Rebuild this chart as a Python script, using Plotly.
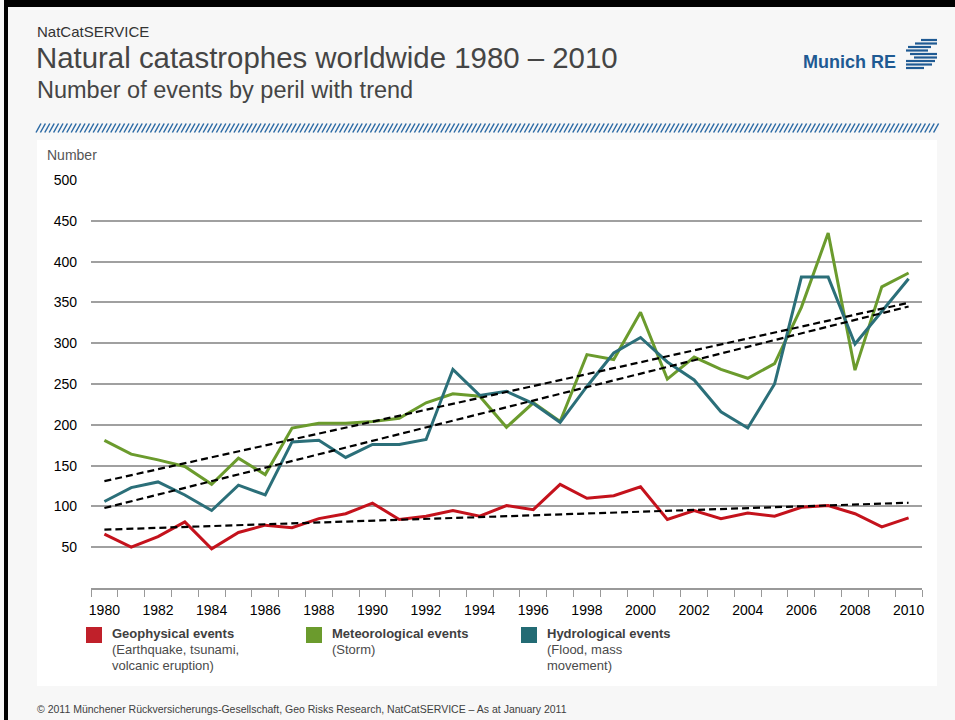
import plotly.graph_objects as go

# ---------------- data ----------------
years = [1980, 1981, 1982, 1983, 1984, 1985, 1986, 1987, 1988, 1989,
         1990, 1991, 1992, 1993, 1994, 1995, 1996, 1997, 1998, 1999,
         2000, 2001, 2002, 2003, 2004, 2005, 2006, 2007, 2008, 2009, 2010]

geophysical = [66, 50, 63, 81, 48, 68, 77, 74, 85, 91,
               104, 84, 88, 95, 88, 101, 96, 127, 110, 113,
               124, 84, 95, 85, 92, 88, 99, 101, 91, 75, 86]

meteorological = [181, 164, 157, 149, 127, 159, 139, 196, 202, 202,
                  204, 208, 227, 238, 235, 197, 227, 204, 286, 280,
                  338, 256, 283, 268, 257, 275, 344, 435, 267, 369, 386]

hydrological = [106, 123, 130, 114, 95, 126, 114, 179, 181, 160,
                176, 176, 182, 268, 236, 241, 226, 203, 247, 288,
                307, 277, 255, 216, 196, 250, 381, 381, 299, 339, 379]

trend_years = [1980, 2010]
trend_geophysical = [71.5, 104.5]
trend_meteorological = [131, 349.5]
trend_hydrological = [98, 345]

x_tick_years = [1980, 1982, 1984, 1986, 1988, 1990, 1992, 1994, 1996,
                 1998, 2000, 2002, 2004, 2006, 2008, 2010]
y_ticks = [50, 100, 150, 200, 250, 300, 350, 400, 450, 500]
boundaries = [1979.5 + i for i in range(32)]

series_names = ["Geophysical events", "Meteorological events", "Hydrological events"]
series_sub = [["(Earthquake, tsunami,", "volcanic eruption)"],
              ["(Storm)"],
              ["(Flood, mass", "movement)"]]

# ---------------- styling ----------------
RED = "#c4121c"
GREEN = "#6b9b2d"
TEAL = "#2b6f79"
LOGO = "#1f5a93"
FONT = "Liberation Sans, Arial, sans-serif"

W, H = 955, 720
ML, MR, MT, MB = 91, 33, 180, 132
PW, PH = W - ML - MR, H - MT - MB


def px(x):
    return (x - ML) / PW


def py(y):
    return (H - MB - y) / PH


fig = go.Figure()

for vals, col, name in [(meteorological, GREEN, series_names[1]),
                        (hydrological, TEAL, series_names[2]),
                        (geophysical, RED, series_names[0])]:
    fig.add_trace(go.Scatter(x=years, y=vals, mode="lines", name=name,
                             line=dict(color=col, width=3),
                             showlegend=False, hoverinfo="x+y"))

for tv in [trend_meteorological, trend_hydrological, trend_geophysical]:
    fig.add_trace(go.Scatter(x=trend_years, y=tv, mode="lines",
                             line=dict(color="#000000", width=2.2, dash="7px,4px"),
                             showlegend=False, hoverinfo="skip"))

shapes = []
# white panel
shapes.append(dict(type="rect", xref="paper", yref="paper", layer="below",
                   x0=px(37), x1=px(937), y0=py(686), y1=py(140),
                   fillcolor="#ffffff", line=dict(width=0)))
# black frame pieces
shapes.append(dict(type="rect", xref="paper", yref="paper",
                   x0=px(4), x1=px(8), y0=py(720), y1=py(0),
                   fillcolor="#000000", line=dict(width=0)))
shapes.append(dict(type="rect", xref="paper", yref="paper",
                   x0=px(4), x1=px(955), y0=py(7), y1=py(0),
                   fillcolor="#000000", line=dict(width=0)))
# hatched band
xh = 36.0
while xh < 934:
    shapes.append(dict(type="line", xref="paper", yref="paper",
                       x0=px(xh), y0=py(132.5), x1=px(xh + 5), y1=py(123.5),
                       line=dict(color="#2c6aa5", width=1.5)))
    xh += 4.4
# logo stripes (stylised)
stripes = [(40, 921, 937), (43.5, 915, 937), (47, 908, 931), (50.5, 906, 928),
           (54, 910, 937), (57.5, 914, 937), (61, 906, 935), (64.5, 906, 932),
           (68, 906, 924)]
for yy, a, b in stripes:
    shapes.append(dict(type="rect", xref="paper", yref="paper",
                       x0=px(a), x1=px(b), y0=py(yy + 1.1), y1=py(yy - 1.1),
                       fillcolor=LOGO, line=dict(width=0)))
# legend squares
for x0, col in [(86, "#c0202a"), (306, GREEN), (521, "#236b74")]:
    shapes.append(dict(type="rect", xref="paper", yref="paper",
                       x0=px(x0), x1=px(x0 + 16), y0=py(643), y1=py(627),
                       fillcolor=col, line=dict(width=0)))

ann = []


def text(x, y, s, size, color, bold=False):
    ann.append(dict(xref="paper", yref="paper", x=px(x), y=py(y),
                    xanchor="left", yanchor="middle", showarrow=False,
                    text=("<b>%s</b>" % s) if bold else s,
                    font=dict(family=FONT, size=size, color=color)))


text(35, 31, "NatCatSERVICE", 15, "#333333")
text(34, 58, "Natural catastrophes worldwide 1980 – 2010", 29.4, "#454545")
text(35, 90, "Number of events by peril with trend", 23.5, "#454545")
ann.append(dict(xref="paper", yref="paper", x=px(898), y=py(62),
                xanchor="right", yanchor="middle", showarrow=False,
                text="<b>Munich RE</b>", font=dict(family=FONT, size=18, color=LOGO)))
text(45, 155, "Number", 14, "#555555")

for x0, name, subs in zip([110, 330, 545], series_names, series_sub):
    text(x0, 633, name, 13, "#404040", bold=True)
    for k, s in enumerate(subs):
        text(x0, 649 + 16 * k, s, 13, "#4a4a4a")

text(35, 709, "© 2011 Münchener Rückversicherungs-Gesellschaft, Geo Risks Research, "
     "NatCatSERVICE – As at January 2011", 10.5, "#404040")

fig.update_layout(
    width=W, height=H,
    margin=dict(l=ML, r=MR, t=MT, b=MB, pad=0),
    paper_bgcolor="#f7f7f7", plot_bgcolor="#ffffff",
    font=dict(family=FONT, color="#000000"),
    shapes=shapes, annotations=ann, showlegend=False,
    xaxis=dict(range=[1979.5, 2010.5], tickmode="array", tickvals=x_tick_years,
               ticktext=[str(v) for v in x_tick_years], ticks="",
               ticklabelstandoff=8,
               tickfont=dict(size=14, color="#000000", family=FONT),
               showgrid=False, zeroline=False, showline=True,
               linecolor="#999999", linewidth=1.6,
               minor=dict(tickmode="array", tickvals=boundaries, ticks="outside",
                          ticklen=7, tickwidth=1.3, tickcolor="#999999",
                          showgrid=False)),
    yaxis=dict(range=[0, 500], tickmode="array", tickvals=y_ticks,
               ticks="", ticklabelstandoff=13,
               tickfont=dict(size=14, color="#000000", family=FONT),
               showgrid=True, gridcolor="#a0a0a0", gridwidth=1.5,
               zeroline=False, showline=False),
)

fig.write_html("out.html")
